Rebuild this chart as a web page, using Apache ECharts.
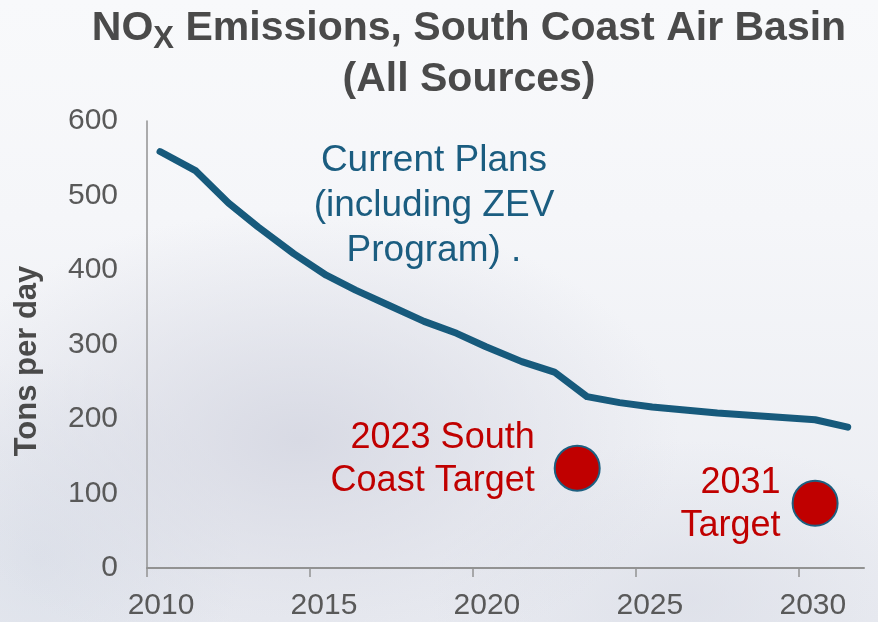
<!DOCTYPE html>
<html>
<head>
<meta charset="utf-8">
<script src="https://cdn.jsdelivr.net/npm/echarts@6/dist/echarts.min.js"></script>
<style>
  body { margin: 0; }
  #chart {
    width: 878px;
    height: 622px;
    background:
      radial-gradient(ellipse 380px 230px at 300px 440px, rgba(212,214,225,0.85), rgba(212,214,225,0)),
      radial-gradient(ellipse 260px 160px at 690px 600px, rgba(216,219,229,0.6), rgba(216,219,229,0)),
      radial-gradient(ellipse 200px 200px at 40px 560px, rgba(216,221,231,0.7), rgba(216,221,231,0)),
      linear-gradient(#f8f9fb 0%, #f5f6f9 35%, #e9ebf1 100%);
  }
</style>
</head>
<body>
<div id="chart"></div>
<script>
// values
const planYears = [2010.4, 2011.5, 2012.5, 2013.4, 2014.5, 2015.5, 2016.4, 2017.4, 2018.5, 2019.5,
                   2020.4, 2021.5, 2022.5, 2023.5, 2024.5, 2025.5, 2026.5, 2027.5, 2028.5, 2029.5, 2030.5, 2031.5];
const planValues = [559, 533, 490, 458, 422, 393, 373, 353, 331, 315,
                    297, 277, 263, 230, 222, 216, 212, 208, 205, 202, 199, 189];
const targetYears = [2023.2, 2030.5];
const targetValues = [134, 87];
const targetNames = ['2023 South\nCoast Target', '2031\nTarget'];
const xTicks = [2010, 2015, 2020, 2025, 2030];

const font = 'Liberation Sans, Arial, sans-serif';
const chart = echarts.init(document.getElementById('chart'));

chart.setOption({
  backgroundColor: 'transparent',
  animation: false,
  grid: { left: 147, right: 14, top: 121, bottom: 54 },
  xAxis: {
    type: 'value',
    min: 2010,
    max: 2032,
    splitLine: { show: false },
    axisLine: { lineStyle: { color: '#929292', width: 2 } },
    axisTick: { customValues: xTicks, length: 9, lineStyle: { color: '#929292', width: 1.5 } },
    axisLabel: {
      customValues: xTicks,
      formatter: v => String(v),
      padding: [0, 0, 0, 28],
      fontSize: 30, color: '#595959', fontFamily: font, margin: 23
    }
  },
  yAxis: {
    type: 'value',
    min: 0,
    max: 600,
    interval: 100,
    splitLine: { show: false },
    axisLine: { show: true, lineStyle: { color: '#929292', width: 1.5 } },
    axisTick: { show: false },
    axisLabel: { fontSize: 30, color: '#595959', fontFamily: font, margin: 29 }
  },
  graphic: [
    {
      type: 'text',
      x: 469,
      y: 3,
      style: {
        text: '{a|NO}{s|X}{a| Emissions, South Coast Air Basin}\n{a|(All Sources)}',
        align: 'center',
        verticalAlign: 'top',
        rich: {
          a: { fontSize: 41, fontWeight: 'bold', fontFamily: font, fill: '#4a4a4a', lineHeight: 51 },
          s: { fontSize: 31, fontWeight: 'bold', fontFamily: font, fill: '#4a4a4a', lineHeight: 29, padding: [22, 0, 0, 0] }
        }
      }
    },
    {
      type: 'text',
      x: 27,
      y: 361,
      rotation: Math.PI / 2,
      style: {
        text: 'Tons per day',
        align: 'center',
        verticalAlign: 'middle',
        fontSize: 31,
        fontWeight: 'bold',
        fontFamily: font,
        fill: '#4a4a4a'
      }
    },
    {
      type: 'text',
      x: 434,
      y: 138,
      style: {
        text: 'Current Plans\n(including ZEV\nProgram) .',
        align: 'center',
        verticalAlign: 'top',
        fontSize: 37,
        lineHeight: 45,
        fontFamily: font,
        fill: '#1b5d80'
      }
    }
  ],
  series: [
    {
      name: 'Current Plans',
      type: 'line',
      data: planYears.map((x, i) => [x, planValues[i]]),
      showSymbol: false,
      lineStyle: { color: '#175a7c', width: 7, join: 'round', cap: 'round' },
      z: 3
    },
    {
      name: 'Targets',
      type: 'scatter',
      symbolSize: 45,
      itemStyle: { color: '#c00000', borderColor: '#1d5f80', borderWidth: 2, opacity: 1 },
      label: {
        show: true,
        position: 'left',
        align: 'right',
        fontSize: 36,
        lineHeight: 43,
        fontFamily: font,
        color: '#c00000',
        formatter: p => targetNames[p.dataIndex]
      },
      data: [
        { value: [targetYears[0], targetValues[0]], label: { distance: 19, offset: [0, -9] } },
        { value: [targetYears[1], targetValues[1]], label: { distance: 11, offset: [0, 1] } }
      ],
      z: 4
    }
  ]
});
</script>
</body>
</html>
